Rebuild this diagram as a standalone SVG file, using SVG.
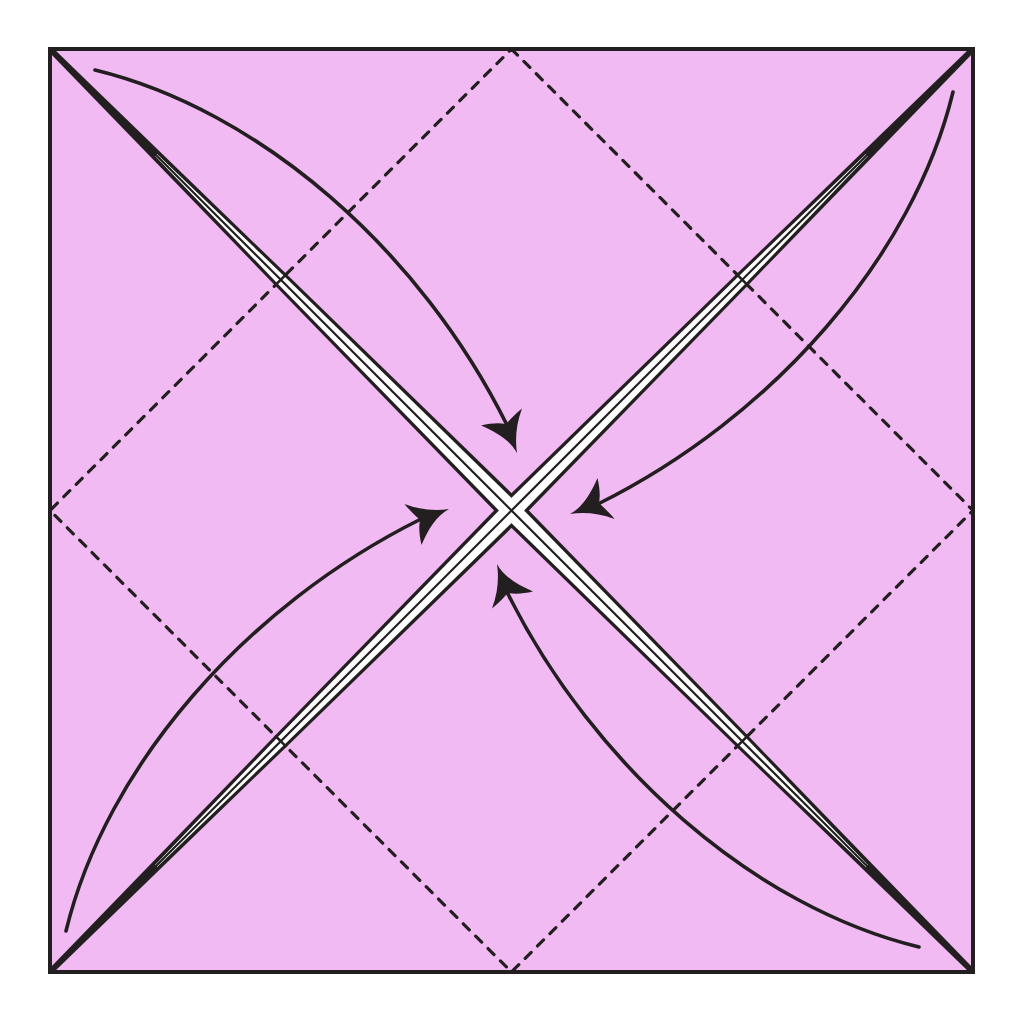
<svg xmlns="http://www.w3.org/2000/svg" xmlns:xlink="http://www.w3.org/1999/xlink" width="1024" height="1024" viewBox="0 0 1024 1024">
<style>
.ink{fill:#231F20}
.paper{fill:#FFFFFF}
.dash{fill:none;stroke:#231F20;stroke-width:3.2;stroke-dasharray:8.5 9;stroke-linecap:round}
.midline{stroke:#231F20;stroke-width:2.2;fill:none}
.bar{stroke:#231F20;stroke-width:2.6;fill:none}
.arrowline{fill:none;stroke:#231F20;stroke-width:3.6;stroke-linecap:round}
</style>
<defs>
<polygon id="armBlack" class="ink" points="0,-2.8 326.35,-8 653.4,-12.5 653.4,12.5 326.35,8 0,2.8"/>
<polygon id="armWhite" class="paper" points="150,-1.4 326.35,-5 653.4,-9 653.4,9 326.35,5 150,1.4"/>
<g id="armLines">
<line class="midline" x1="140" y1="0" x2="653.4" y2="0"/>
<line class="bar" x1="326.35" y1="-8" x2="326.35" y2="8"/>
</g>
<g id="arrow">
<path class="arrowline" d="M95,70 C260,110 420,250 507,425"/>
<path class="ink" d="M506,424 C498,422.5 490,423.5 481,425.5 C496,432 510,440 517,453 C515,440 516,424 522,408.5 C515,414 510,420 506,424 Z"/>
</g>
</defs>
<g id="sheet">
<rect x="50" y="49" width="923" height="923" fill="#F2BAF3"/>
</g>
<g id="valley-folds">
<polygon class="dash" points="511.5,49 973,510.5 511.5,972 50,510.5"/>
</g>
<g id="diagonals">
<use xlink:href="#armBlack" transform="translate(50,49) rotate(45)"/>
<use xlink:href="#armBlack" transform="translate(973,49) rotate(135)"/>
<use xlink:href="#armBlack" transform="translate(50,972) rotate(-45)"/>
<use xlink:href="#armBlack" transform="translate(973,972) rotate(225)"/>
<use xlink:href="#armWhite" transform="translate(50,49) rotate(45)"/>
<use xlink:href="#armWhite" transform="translate(973,49) rotate(135)"/>
<use xlink:href="#armWhite" transform="translate(50,972) rotate(-45)"/>
<use xlink:href="#armWhite" transform="translate(973,972) rotate(225)"/>
<use xlink:href="#armLines" transform="translate(50,49) rotate(45)"/>
<use xlink:href="#armLines" transform="translate(973,49) rotate(135)"/>
<use xlink:href="#armLines" transform="translate(50,972) rotate(-45)"/>
<use xlink:href="#armLines" transform="translate(973,972) rotate(225)"/>
</g>
<g id="connectors">
<use xlink:href="#arrow"/>
<use xlink:href="#arrow" transform="translate(1,-3) rotate(90 511 511)"/>
<use xlink:href="#arrow" transform="translate(-4,4) rotate(-90 511 511)"/>
<use xlink:href="#arrow" transform="translate(-8,-5) rotate(180 511 511)"/>
</g>
<g id="border">
<rect x="50" y="49" width="923" height="923" fill="none" stroke="#231F20" stroke-width="4"/>
</g>
</svg>
